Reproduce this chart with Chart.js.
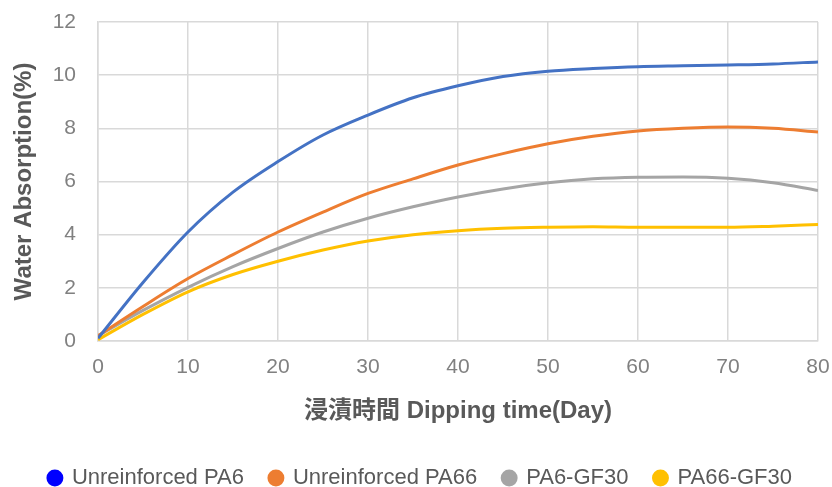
<!DOCTYPE html>
<html>
<head>
<meta charset="utf-8">
<script src="https://cdn.jsdelivr.net/npm/chart.js@4.4.1/dist/chart.umd.min.js"></script>
<style>
  html, body { margin: 0; padding: 0; background: #fff; }
  #wrap { width: 832px; height: 487px; }
</style>
</head>
<body>
<div id="wrap"><canvas id="chart"></canvas></div>
<script>
// dipping time (days)
const days = [0, 5, 10, 15, 20, 25, 30, 35, 40, 45, 50, 55, 60, 65, 70, 75, 80];

const pa6 = [0.1, 2.2, 4.1, 5.6, 6.75, 7.75, 8.5, 9.15, 9.6, 9.95, 10.15, 10.25, 10.32, 10.35, 10.38, 10.42, 10.5];
const pa66 = [0.2, 1.3, 2.35, 3.25, 4.1, 4.85, 5.55, 6.1, 6.62, 7.05, 7.42, 7.7, 7.9, 8.0, 8.05, 8.0, 7.86];
const pa6gf = [0.2, 1.15, 2.02, 2.8, 3.48, 4.1, 4.62, 5.05, 5.42, 5.72, 5.95, 6.1, 6.16, 6.17, 6.12, 5.95, 5.66];
const pa66gf = [0.05, 1.0, 1.85, 2.5, 3.0, 3.42, 3.76, 4.0, 4.15, 4.24, 4.28, 4.3, 4.28, 4.28, 4.28, 4.32, 4.38];

const seriesNames = ['Unreinforced PA6', 'Unreinforced PA66', 'PA6-GF30', 'PA66-GF30'];
const lineColors = ['#4472C4', '#ED7D31', '#A5A5A5', '#FFC000'];
const legendColors = ['#0000FF', '#ED7D31', '#A5A5A5', '#FFC000'];

const FONT = '"Liberation Sans", "Noto Sans CJK JP", sans-serif';

function toPoints(vals) {
    return days.map((d, i) => ({ x: d, y: vals[i] }));
}

const allSeries = [pa6, pa66, pa6gf, pa66gf];

new Chart(document.getElementById('chart').getContext('2d'), {
    type: 'line',
    data: {
        datasets: allSeries.map((vals, i) => ({
            label: seriesNames[i],
            data: toPoints(vals),
            borderColor: lineColors[i],
            backgroundColor: legendColors[i],
            borderWidth: 3,
            pointRadius: 0,
            cubicInterpolationMode: 'monotone',
            fill: false
        }))
    },
    options: {
        responsive: true,
        maintainAspectRatio: false,
        animation: false,
        layout: { padding: { left: 0, right: 14, top: 22, bottom: -12 } },
        scales: {
            x: {
                type: 'linear',
                min: 0, max: 80,
                ticks: { stepSize: 10, color: '#808080', font: { family: FONT, size: 21 }, padding: 14 },
                grid: { color: '#d9d9d9', lineWidth: 1.5, drawTicks: false },
                border: { color: '#d9d9d9', width: 1.5 },
                title: {
                    display: true,
                    text: '浸漬時間 Dipping time(Day)',
                    color: '#595959',
                    font: { family: FONT, size: 24, weight: 'bold' },
                    padding: { top: 0, bottom: 15 }
                },
                afterFit: s => { s.height = 100; s.paddingLeft = 0; s.paddingRight = 0; }
            },
            y: {
                min: 0, max: 12,
                ticks: { stepSize: 2, color: '#808080', font: { family: FONT, size: 21 }, padding: 22 },
                grid: { color: '#d9d9d9', lineWidth: 1.5, drawTicks: false },
                border: { color: '#d9d9d9', width: 1.5 },
                title: {
                    display: true,
                    text: 'Water Absorption(%)',
                    color: '#595959',
                    font: { family: FONT, size: 24, weight: 'bold' },
                    padding: { top: 10, bottom: 0 }
                },
                afterFit: s => { s.width = 98; s.paddingTop = 0; s.paddingBottom = 0; }
            }
        },
        plugins: {
            legend: {
                position: 'bottom',
                align: 'end',
                labels: {
                    usePointStyle: true,
                    pointStyle: 'circle',
                    boxWidth: 12,
                    boxHeight: 12,
                    padding: 26,
                    color: '#595959',
                    font: { family: FONT, size: 22 },
                    generateLabels: chart => chart.data.datasets.map((ds, i) => ({
                        text: ds.label,
                        fillStyle: legendColors[i],
                        strokeStyle: legendColors[i],
                        lineWidth: 0,
                        pointStyle: 'circle',
                        fontColor: '#595959',
                        datasetIndex: i
                    }))
                }
            },
            tooltip: { enabled: false }
        }
    }
});
</script>
</body>
</html>
